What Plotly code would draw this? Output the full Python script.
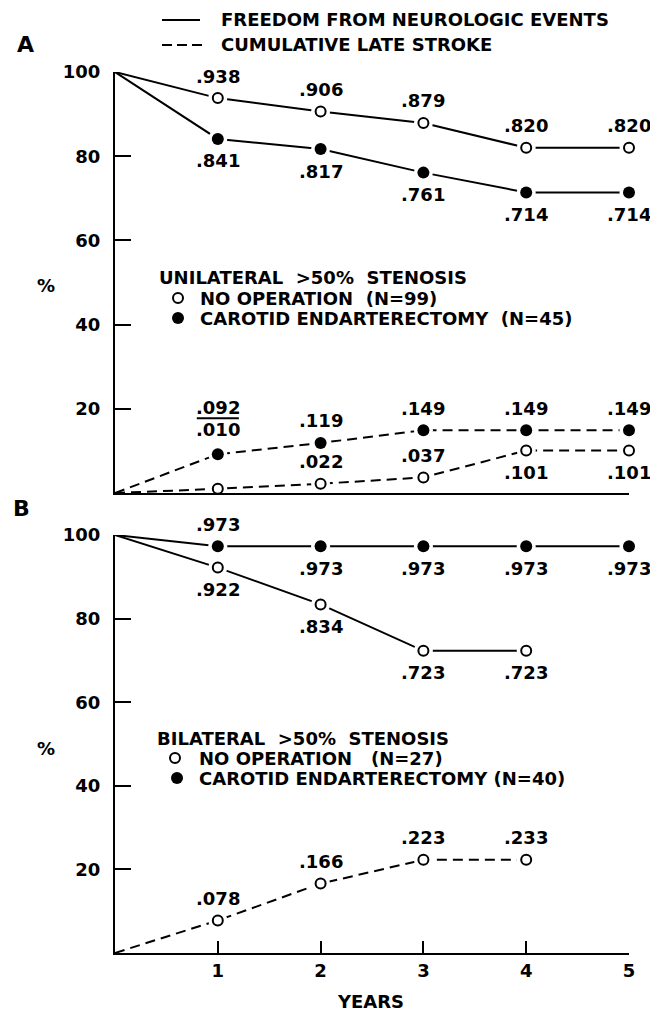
import plotly.graph_objects as go

# ---------------- data ----------------
years = [0, 1, 2, 3, 4, 5]
years_b_noop = [0, 1, 2, 3, 4]

# Panel A: unilateral >50% stenosis (percent)
a_free_noop = [100, 93.8, 90.6, 87.9, 82.0, 82.0]
a_free_cea = [100, 84.1, 81.7, 76.1, 71.4, 71.4]
a_stroke_noop = [0, 1.0, 2.2, 3.7, 10.1, 10.1]
a_stroke_cea = [0, 9.2, 11.9, 14.9, 14.9, 14.9]

# Panel B: bilateral >50% stenosis (percent)
b_free_noop = [100, 92.2, 83.4, 72.3, 72.3]
b_free_cea = [100, 97.3, 97.3, 97.3, 97.3, 97.3]
b_stroke_noop = [0, 7.8, 16.6, 22.3, 22.3]

# point labels
a_free_noop_lbl = ["", ".938", ".906", ".879", ".820", ".820"]
a_free_cea_lbl = ["", ".841", ".817", ".761", ".714", ".714"]
a_stroke_noop_lbl = ["", "", ".022", ".037", ".101", ".101"]
a_stroke_cea_lbl = ["", "", ".119", ".149", ".149", ".149"]
a_year1_fraction = [".092", ".010"]
b_free_noop_lbl = ["", ".922", ".834", ".723", ".723"]
b_free_cea_lbl = ["", ".973", ".973", ".973", ".973", ".973"]
b_stroke_noop_lbl = ["", ".078", ".166", ".223", ".233"]

y_ticks = [20, 40, 60, 80, 100]
x_ticks = [1, 2, 3, 4, 5]

# ---------------- layout constants ----------------
OFF = 8                      # page body margin
FW, FH = 658 - OFF, 1011 - OFF
ML = 115 - OFF               # plot left edge (page x = 115)
MR = FW - (629 - OFF)        # plot right edge (page x = 629)
MT = 72 - OFF                # plot top (page y = 72)
MB = FH - (953 - OFF)        # plot bottom (page y = 953)
PW = FW - ML - MR
PH = FH - MT - MB
FONT = "DejaVu Sans"


def px(x):  # page x -> paper
    return (x - OFF - ML) / PW


def py(y):  # page y -> paper
    return (FH - MB - (y - OFF)) / PH


A_DOM = [py(493), 1.0]
B_DOM = [0.0, py(535)]

fig = go.Figure()


def add_panel(series, xa, ya):
    for x, y, filled, dashed in series:
        fig.add_trace(go.Scatter(
            x=x, y=y, mode="lines", xaxis=xa, yaxis=ya, showlegend=False,
            line=dict(color="black", width=2, dash="10px,6px" if dashed else "solid"),
            cliponaxis=False, hoverinfo="skip"))
    for x, y, filled, dashed in series:
        fig.add_trace(go.Scatter(
            x=x[1:], y=y[1:], mode="markers", xaxis=xa, yaxis=ya, showlegend=False,
            marker=dict(symbol="circle", size=19, color="white", line=dict(width=0)),
            cliponaxis=False, hoverinfo="skip"))
    for x, y, filled, dashed in series:
        if filled:
            mk = dict(symbol="circle", size=12, color="black", line=dict(width=0))
        else:
            mk = dict(symbol="circle", size=10, color="white", line=dict(width=2, color="black"))
        fig.add_trace(go.Scatter(
            x=x[1:], y=y[1:], mode="markers", xaxis=xa, yaxis=ya, showlegend=False,
            marker=mk, cliponaxis=False, hoverinfo="skip"))


add_panel([
    (years, a_free_noop, False, False),
    (years, a_free_cea, True, False),
    (years, a_stroke_noop, False, True),
    (years, a_stroke_cea, True, True),
], "x", "y")

add_panel([
    (years_b_noop, b_free_noop, False, False),
    (years, b_free_cea, True, False),
    (years_b_noop, b_stroke_noop, False, True),
], "x2", "y2")

annotations = []
shapes = []
lblfont = dict(family=FONT, size=18, color="black", weight="bold")


def add_labels(x, y, lbls, sides, xref, yref):
    for xi, yi, t, s in zip(x, y, lbls, sides):
        if not t:
            continue
        annotations.append(dict(x=xi, y=yi, xref=xref, yref=yref, text=t,
                                showarrow=False, yshift=22 * s, font=lblfont,
                                xanchor="center", yanchor="middle"))


U, D = 1, -1
add_labels(years, a_free_noop, a_free_noop_lbl, [U] * 6, "x", "y")
add_labels(years, a_free_cea, a_free_cea_lbl, [D] * 6, "x", "y")
add_labels(years, a_stroke_noop, a_stroke_noop_lbl, [U, U, U, U, D, D], "x", "y")
add_labels(years, a_stroke_cea, a_stroke_cea_lbl, [U] * 6, "x", "y")
add_labels(years_b_noop, b_free_noop, b_free_noop_lbl, [D] * 5, "x2", "y2")
add_labels(years, b_free_cea, b_free_cea_lbl, [U, U, D, D, D, D], "x2", "y2")
add_labels(years_b_noop, b_stroke_noop, b_stroke_noop_lbl, [U] * 5, "x2", "y2")

# fraction label at year 1 (panel A stroke)
annotations.append(dict(x=years[1], y=a_stroke_cea[1], xref="x", yref="y",
                        text=a_year1_fraction[0], showarrow=False, yshift=47,
                        font=lblfont))
annotations.append(dict(x=years[1], y=a_stroke_cea[1], xref="x", yref="y",
                        text=a_year1_fraction[1], showarrow=False, yshift=25,
                        font=lblfont))
shapes.append(dict(type="line", xref="x", yref="y", xsizemode="pixel",
                   ysizemode="pixel", xanchor=years[1], yanchor=a_stroke_cea[1],
                   x0=-21, x1=21, y0=36, y1=36, line=dict(color="black", width=2)))

txtfont = dict(family=FONT, size=18, color="black", weight="bold")
NB = "\u00a0"


def ptext(x, y, t, font=txtfont, xanchor="left"):
    annotations.append(dict(x=px(x), y=py(y), xref="paper", yref="paper", text=t,
                            showarrow=False, font=font, xanchor=xanchor,
                            yanchor="middle"))


def pcircle(x, y, filled, d=11):
    shapes.append(dict(type="circle", xref="paper", yref="paper", xsizemode="pixel",
                       ysizemode="pixel", xanchor=px(x), yanchor=py(y),
                       x0=-d / 2, x1=d / 2, y0=-d / 2, y1=d / 2,
                       fillcolor="black" if filled else "white",
                       line=dict(color="black", width=0 if filled else 2)))


# top legend
shapes.append(dict(type="line", xref="paper", yref="paper", x0=px(162), x1=px(200),
                   y0=py(20), y1=py(20), line=dict(color="black", width=2)))
shapes.append(dict(type="line", xref="paper", yref="paper", x0=px(162), x1=px(202),
                   y0=py(45), y1=py(45), line=dict(color="black", width=2, dash="10px,5px")))
ptext(219, 20, "FREEDOM FROM NEUROLOGIC EVENTS")
ptext(219, 45, "CUMULATIVE LATE STROKE")

bold = dict(family=FONT, size=22, color="black", weight="bold")
ptext(25, 45, "A", font=bold, xanchor="center")
ptext(21, 508, "B", font=bold, xanchor="center")

ptext(46, 285, "%", font=txtfont, xanchor="center")
ptext(46, 748, "%", font=txtfont, xanchor="center")

# panel A group legend
ptext(157, 277, "UNILATERAL " + NB + ">50% " + NB + "STENOSIS")
pcircle(178, 298, False, 10)
ptext(198, 298, "NO OPERATION " + NB + "(N=99)")
pcircle(178, 318, True, 12)
ptext(198, 318, "CAROTID ENDARTERECTOMY " + NB + "(N=45)")

# panel B group legend
ptext(155, 738, "BILATERAL " + NB + ">50% " + NB + "STENOSIS")
pcircle(175, 758, False, 10)
ptext(197, 758, "NO OPERATION " + NB + NB + "(N=27)")
pcircle(177, 778, True, 12)
ptext(197, 778, "CAROTID ENDARTERECTOMY (N=40)")

ptext(370, 1001, "YEARS", xanchor="center")

tickfont = dict(family=FONT, size=18, color="black", weight="bold")
yax = dict(range=[0, 100], tickvals=y_ticks, ticks="inside", ticklen=16, tickwidth=2,
           tickcolor="black", showline=True, linewidth=2, linecolor="black",
           showgrid=False, zeroline=False, tickfont=tickfont, ticklabelstandoff=9,
           layer="above traces", fixedrange=True)
xax = dict(range=[0, 5], showline=True, linewidth=2, linecolor="black", showgrid=False,
           zeroline=False, layer="above traces", fixedrange=True)

fig.update_layout(
    width=FW, height=FH,
    margin=dict(l=ML, r=MR, t=MT, b=MB, pad=0),
    paper_bgcolor="white", plot_bgcolor="white",
    showlegend=False,
    xaxis=dict(**xax, anchor="y", showticklabels=False, ticks=""),
    yaxis=dict(**yax, domain=A_DOM, anchor="x"),
    xaxis2=dict(**xax, anchor="y2", tickvals=x_ticks, ticks="inside", ticklen=12,
                tickwidth=2, tickcolor="black", tickfont=tickfont),
    yaxis2=dict(**yax, domain=B_DOM, anchor="x2"),
    annotations=annotations,
    shapes=shapes,
    font=dict(family=FONT, color="black"),
)

fig.write_html("out.html")
